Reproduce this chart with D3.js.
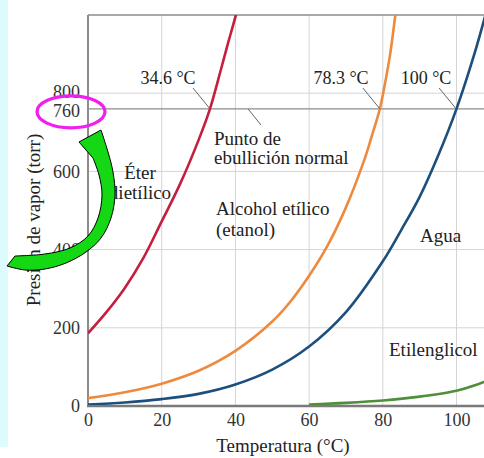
<!DOCTYPE html>
<html>
<head>
<meta charset="utf-8">
<script src="https://cdn.jsdelivr.net/npm/d3@7"></script>
<style>
body { margin: 0; background: #fff; }
svg { display: block; font-family: "Liberation Serif", "Times New Roman", serif; }
</style>
</head>
<body>
<div id="chart"></div>
<script>
// Presión de vapor vs temperatura
const xTicks = [0, 20, 40, 60, 80, 100];
const yTicks = [0, 200, 400, 600, 800];
const yGrid = [200, 400, 600, 800];

const eterT = [0, 5, 10, 15, 20, 25, 30, 33.1, 36, 38, 40, 42];
const eterP = [186, 240, 302, 378, 472, 568, 680, 760, 858, 928, 995, 1070];

const etanolT = [0, 10, 20, 30, 40, 50, 55, 60, 65, 70, 75, 77, 79.2, 80.5, 82, 83.4, 85];
const etanolP = [20, 35, 57, 90, 141, 216, 268, 333, 410, 508, 630, 690, 760, 820, 900, 1000, 1120];

const aguaT = [0, 10, 20, 30, 40, 50, 60, 70, 80, 85, 90, 95, 100, 105, 108, 110];
const aguaP = [4, 9, 17.5, 31, 55, 93, 152, 240, 370, 450, 535, 640, 760, 905, 1005, 1075];

const glicolT = [60, 70, 80, 90, 100, 105, 110];
const glicolP = [4, 8, 14, 24, 39, 53, 72];

// puntos de ebullición normal (texto y cruce con 760 torr en el dibujo)
const boilLabels = ["34.6 °C", "78.3 °C", "100 °C"];
const boilCross = [33.1, 79.2, 99.9];

const W = 484, H = 458;
const marginLeft = 88, plotTop = 15, plotBottom = 406;

const svg = d3.select('#chart').append('svg')
    .attr('width', W)
    .attr('height', H);

// franja celeste a la izquierda
svg.append('rect')
    .attr('x', 0).attr('y', 0)
    .attr('width', 8).attr('height', 447)
    .attr('fill', '#ddfbfc');

const x = d3.scaleLinear().domain([0, 110]).range([marginLeft, marginLeft + 110 * 3.685]);
const y = d3.scaleLinear().domain([0, 1000]).range([plotBottom, plotTop]);

// rejilla
svg.append('g')
    .selectAll('line')
    .data(xTicks.slice(1))
    .enter().append('line')
    .attr('x1', d => x(d)).attr('x2', d => x(d))
    .attr('y1', plotTop).attr('y2', plotBottom)
    .attr('stroke', '#d4d4d4').attr('stroke-width', 1);

svg.append('g')
    .selectAll('line')
    .data(yGrid)
    .enter().append('line')
    .attr('x1', marginLeft).attr('x2', W)
    .attr('y1', d => y(d)).attr('y2', d => y(d))
    .attr('stroke', '#d4d4d4').attr('stroke-width', 1);

// línea de 760 torr
svg.append('line')
    .attr('x1', marginLeft).attr('x2', W)
    .attr('y1', y(760)).attr('y2', y(760))
    .attr('stroke', '#8c8c8c').attr('stroke-width', 1.3);

// borde superior
svg.append('line')
    .attr('x1', marginLeft).attr('x2', W)
    .attr('y1', plotTop).attr('y2', plotTop)
    .attr('stroke', '#8c8c8c').attr('stroke-width', 1.5);

// ejes
const xAxis = svg.append('g')
    .attr('transform', `translate(0,${plotBottom})`)
    .call(d3.axisBottom(x).tickValues(xTicks).tickSize(0).tickPadding(7));
xAxis.select('.domain').remove();
xAxis.selectAll('text')
    .attr('font-size', 18)
    .attr('font-family', '"Liberation Serif", serif')
    .attr('fill', '#333');

const yAxis = svg.append('g')
    .attr('transform', `translate(${marginLeft},0)`)
    .call(d3.axisLeft(y).tickValues(yTicks).tickSize(0).tickPadding(8));
yAxis.select('.domain').remove();
yAxis.selectAll('text')
    .attr('font-size', 18)
    .attr('font-family', '"Liberation Serif", serif')
    .attr('fill', '#333')
    .attr('dy', d => d === 800 ? '0.22em' : '0.32em');

// etiqueta 760
svg.append('rect')
    .attr('x', 50).attr('y', y(760) - 5)
    .attr('width', 34).attr('height', 16)
    .attr('fill', '#fff');
svg.append('text')
    .attr('x', marginLeft - 8)
    .attr('y', y(760) + 2.5)
    .attr('dy', '0.32em')
    .attr('text-anchor', 'end')
    .attr('font-size', 18)
    .attr('fill', '#333')
    .text('760');

svg.append('line')
    .attr('x1', marginLeft).attr('x2', marginLeft)
    .attr('y1', plotTop).attr('y2', plotBottom)
    .attr('stroke', '#8c8c8c').attr('stroke-width', 2);
svg.append('line')
    .attr('x1', marginLeft - 1).attr('x2', W)
    .attr('y1', plotBottom).attr('y2', plotBottom)
    .attr('stroke', '#7a7a7a').attr('stroke-width', 2.5);

// curvas
svg.append('clipPath').attr('id', 'plot')
    .append('rect')
    .attr('x', marginLeft).attr('y', plotTop)
    .attr('width', W - marginLeft).attr('height', plotBottom - plotTop - 1);

const line = d3.line()
    .x(d => x(d[0]))
    .y(d => y(d[1]))
    .curve(d3.curveCatmullRom.alpha(0.5));

const series = [
    { t: eterT, p: eterP, color: '#c41f3e' },
    { t: etanolT, p: etanolP, color: '#ee8a3e' },
    { t: aguaT, p: aguaP, color: '#1c4f7c' },
    { t: glicolT, p: glicolP, color: '#4f8f3c' }
];

svg.append('g')
    .attr('clip-path', 'url(#plot)')
    .selectAll('path')
    .data(series)
    .enter().append('path')
    .attr('d', s => line(s.t.map((t, i) => [t, s.p[i]])))
    .attr('fill', 'none')
    .attr('stroke', s => s.color)
    .attr('stroke-width', 2.6);

// rótulos de los puntos de ebullición
const labelX = [168, 341, 426];
boilLabels.forEach((lab, i) => {
    svg.append('text')
        .attr('x', labelX[i]).attr('y', 84)
        .attr('text-anchor', 'middle')
        .attr('font-size', 18)
        .attr('fill', '#222')
        .text(lab);
    svg.append('line')
        .attr('x1', x(boilCross[i]) - 17).attr('y1', 88)
        .attr('x2', x(boilCross[i])).attr('y2', y(760))
        .attr('stroke', '#666').attr('stroke-width', 1);
});

svg.append('line')
    .attr('x1', 248).attr('y1', y(760))
    .attr('x2', 261).attr('y2', 125)
    .attr('stroke', '#666').attr('stroke-width', 1);

const notes = [
    { text: 'Punto de', x: 214, y: 145, anchor: 'start' },
    { text: 'ebullición normal', x: 214, y: 164, anchor: 'start' },
    { text: 'Éter', x: 140, y: 179, anchor: 'middle' },
    { text: 'dietílico', x: 140, y: 199, anchor: 'middle' },
    { text: 'Alcohol etílico', x: 216, y: 215, anchor: 'start' },
    { text: '(etanol)', x: 216, y: 236, anchor: 'start' },
    { text: 'Agua', x: 420, y: 242, anchor: 'start' },
    { text: 'Etilenglicol', x: 389, y: 356, anchor: 'start' }
];
svg.selectAll('text.note')
    .data(notes)
    .enter().append('text')
    .attr('class', 'note')
    .attr('x', d => d.x).attr('y', d => d.y)
    .attr('text-anchor', d => d.anchor)
    .attr('font-size', 19)
    .attr('fill', '#222')
    .text(d => d.text);

// títulos de ejes
svg.append('text')
    .attr('x', 283).attr('y', 452)
    .attr('text-anchor', 'middle')
    .attr('font-size', 19)
    .attr('fill', '#222')
    .text('Temperatura (°C)');

svg.append('text')
    .attr('transform', 'translate(40,220) rotate(-90)')
    .attr('text-anchor', 'middle')
    .attr('font-size', 19)
    .attr('fill', '#222')
    .text('Presión de vapor (torr)');

// elipse magenta alrededor de 760
svg.append('ellipse')
    .attr('cx', 71).attr('cy', y(760) + 3)
    .attr('rx', 34).attr('ry', 16)
    .attr('fill', 'none')
    .attr('stroke', '#f21ef0')
    .attr('stroke-width', 3.2);

// flecha verde curva
const outer = [[7, 266], [25, 270], [45, 269], [66, 263], [86, 252], [101, 238], [111, 218], [115, 195], [113, 172], [108, 152], [101, 130]];
const inner = [[93, 158], [99, 175], [102, 195], [98, 218], [88, 236], [70, 248], [45, 254], [15, 256]];
const edge = d3.line().curve(d3.curveCatmullRom);
const arrowPath = edge(outer) + 'L79,142' + edge(inner).replace(/^M/, 'L') + 'Z';
svg.append('path')
    .attr('d', arrowPath)
    .attr('fill', '#14d814')
    .attr('stroke', '#000')
    .attr('stroke-width', 1)
    .attr('stroke-linejoin', 'miter');
</script>
</body>
</html>
